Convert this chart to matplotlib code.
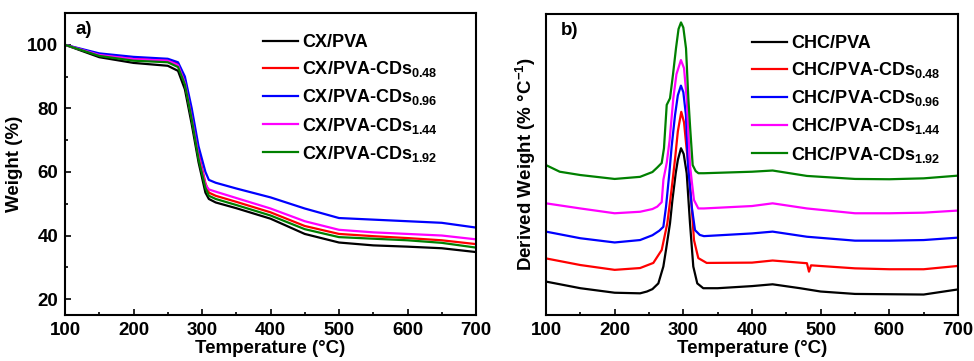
import matplotlib
matplotlib.use("Agg")
import matplotlib.pyplot as plt
from matplotlib.ticker import MultipleLocator

plt.rcParams['font.family'] = ['Liberation Sans', 'DejaVu Sans']
plt.rcParams['font.weight'] = 'bold'
plt.rcParams['mathtext.fontset'] = 'custom'
plt.rcParams['mathtext.rm'] = 'Liberation Sans:bold'
plt.rcParams['mathtext.bf'] = 'Liberation Sans:bold'
plt.rcParams['mathtext.default'] = 'bf'

colors = ['black', 'red', 'blue', 'magenta', 'green']

# ---- panel a: TGA ----
tga_labels = ['CX/PVA', r'CX/PVA-CDs$_{0.48}$', r'CX/PVA-CDs$_{0.96}$',
              r'CX/PVA-CDs$_{1.44}$', r'CX/PVA-CDs$_{1.92}$']
tga_t = [100, 150, 200, 250, 265, 275, 285, 295, 305, 310, 320, 350, 400, 450, 500, 550, 600, 650, 700]
tga_black = [100, 96.1, 94.3, 93.4, 91.8, 86.0, 75.0, 63.0, 53.5, 51.5, 50.4, 48.6, 45.3, 40.5, 37.8, 36.9, 36.5, 36.0, 34.8]
tga_red = [100, 96.9, 95.6, 95.1, 94.0, 89.0, 78.5, 66.0, 56.5, 53.5, 52.5, 50.6, 47.3, 43.0, 40.5, 39.8, 39.2, 38.5, 37.3]
tga_blue = [100, 97.3, 96.2, 95.6, 94.5, 90.0, 80.0, 68.0, 60.0, 57.5, 56.6, 54.8, 52.0, 48.5, 45.5, 45.0, 44.5, 44.0, 42.5]
tga_magenta = [100, 96.8, 95.5, 95.0, 93.6, 88.0, 77.0, 65.0, 56.0, 54.5, 53.8, 51.8, 48.5, 44.5, 41.8, 41.0, 40.5, 40.0, 38.8]
tga_green = [100, 96.5, 95.0, 94.5, 93.0, 87.5, 76.5, 64.0, 55.0, 52.5, 51.5, 49.6, 46.3, 42.0, 39.5, 39.0, 38.5, 37.7, 36.2]

# ---- panel b: DTG (arbitrary units, curves offset) ----
dtg_labels = ['CHC/PVA', r'CHC/PVA-CDs$_{0.48}$', r'CHC/PVA-CDs$_{0.96}$',
              r'CHC/PVA-CDs$_{1.44}$', r'CHC/PVA-CDs$_{1.92}$']
black_t = [100, 150, 200, 237, 247, 255, 263.6, 270.9, 275, 280.6, 284, 288.9, 292, 296.6, 300.5, 304.9,
           309.7, 314.5, 320.3, 329, 350, 400, 430, 470, 500, 550, 600, 650, 700]
black_y = [11.1, 8.9, 7.4, 7.2, 7.8, 8.6, 10.5, 16.1, 22.0, 30.5, 38.0, 47.1, 51.5, 55.4, 53.5, 47.1,
           30.5, 16.1, 10.5, 8.9, 8.9, 9.6, 10.2, 8.9, 7.8, 7.0, 6.9, 6.8, 8.5]
red_t = [100, 150, 200, 237, 256.3, 268.5, 276.7, 283, 288, 292, 297, 301, 304, 307.3, 312.2, 315.5,
         321.8, 334, 400, 430, 480, 483, 486, 550, 600, 650, 700]
red_y = [18.8, 16.6, 15.0, 15.6, 17.3, 21.6, 30.5, 42.0, 52.0, 61.0, 67.5, 64.0, 57.0, 49.8, 36.0, 24.9,
         18.9, 17.3, 17.4, 18.1, 17.2, 14.4, 16.5, 15.5, 15.2, 15.2, 16.3]
blue_t = [100, 150, 200, 237, 255, 265, 270.9, 274.8, 279.6, 283, 287.9, 292, 296.5, 300, 303.8, 306.8,
          312.2, 317, 324, 330, 400, 430, 480, 550, 600, 650, 700]
blue_y = [27.7, 25.5, 24.1, 24.9, 26.5, 28.0, 29.3, 36.0, 47.1, 56.0, 66.4, 73.0, 76.2, 74.0, 66.4, 49.8,
          36.0, 28.2, 26.6, 26.2, 27.1, 27.7, 26.0, 24.7, 24.7, 24.9, 25.7]
magenta_t = [100, 150, 200, 237, 255, 262, 268.5, 271, 275.8, 280, 285.4, 290, 296.5, 301, 304.9, 309.7,
             312.5, 315.5, 321.8, 330, 400, 430, 480, 550, 600, 650, 700]
magenta_y = [37.1, 35.4, 33.8, 34.3, 35.2, 36.0, 37.5, 45.0, 50.5, 58.0, 72.0, 80.0, 84.7, 82.0, 72.0, 49.8,
             44.0, 38.2, 35.4, 35.4, 36.2, 37.1, 35.4, 33.8, 33.8, 34.0, 34.7]
green_t = [100, 120, 150, 200, 237, 255, 262, 268.5, 271.8, 275.8, 280.6, 285, 289.3, 293, 296.6, 300,
           303.9, 307.3, 310, 313.6, 318, 322, 330, 400, 430, 480, 550, 600, 650, 700]
green_y = [49.8, 47.6, 46.5, 45.2, 45.9, 47.5, 49.0, 50.5, 55.4, 69.8, 72.0, 80.0, 88.6, 95.0, 97.2, 95.5,
           88.6, 72.0, 62.0, 49.8, 47.8, 47.1, 47.1, 47.6, 48.0, 46.2, 45.2, 45.1, 45.4, 46.3]

fig = plt.figure(figsize=(9.74, 3.61), dpi=100)
ax1 = fig.add_axes([65 / 974, 1 - 315 / 361, 411 / 974, 302 / 361])
ax2 = fig.add_axes([546 / 974, 1 - 315 / 361, 412 / 974, 301 / 361])

tga = [tga_black, tga_red, tga_blue, tga_magenta, tga_green]
for ys, c, lab in zip(tga, colors, tga_labels):
    ax1.plot(tga_t, ys, color=c, lw=1.6, label=lab)
ax1.set_xlim(100, 700)
ax1.set_ylim(15, 110)
ax1.yaxis.set_major_locator(MultipleLocator(20))
ax1.yaxis.set_minor_locator(MultipleLocator(10))
ax1.set_ylabel('Weight (%)', fontsize=13.5, fontweight='bold', labelpad=3)
ax1.text(0.025, 0.975, 'a)', transform=ax1.transAxes, fontsize=13.5, fontweight='bold', va='top')

dtg = [(black_t, black_y), (red_t, red_y), (blue_t, blue_y), (magenta_t, magenta_y), (green_t, green_y)]
for (ts, ys), c, lab in zip(dtg, colors, dtg_labels):
    ax2.plot(ts, ys, color=c, lw=1.6, label=lab)
ax2.set_xlim(100, 700)
ax2.set_ylim(0, 100)
ax2.set_yticks([])
ax2.set_ylabel(r'Derived Weight (% $\degree$C$^{-1}$)', fontsize=13.5, fontweight='bold', labelpad=6)
ax2.text(0.035, 0.975, 'b)', transform=ax2.transAxes, fontsize=13.5, fontweight='bold', va='top')

leg_anchor = {ax1: (0.482, 0.93), ax2: (0.5, 0.93)}
for ax in (ax1, ax2):
    ax.xaxis.set_major_locator(MultipleLocator(100))
    ax.xaxis.set_minor_locator(MultipleLocator(50))
    ax.tick_params(which='both', direction='in', labelsize=13.5, width=1.2, pad=5)
    ax.tick_params(which='major', length=4)
    ax.tick_params(which='minor', length=2.5)
    for lbl in ax.get_xticklabels() + ax.get_yticklabels():
        lbl.set_fontweight('bold')
    for sp in ax.spines.values():
        sp.set_linewidth(1.5)
    ax.set_xlabel('Temperature (°C)', fontsize=13.5, fontweight='bold', labelpad=1)
    ax.legend(loc='upper left', bbox_to_anchor=leg_anchor[ax], frameon=False,
              handlelength=1.95, handletextpad=0.2, labelspacing=0.45,
              borderpad=0, borderaxespad=0, prop={'weight': 'bold', 'size': 13})

fig.savefig('out.png', dpi=100)
